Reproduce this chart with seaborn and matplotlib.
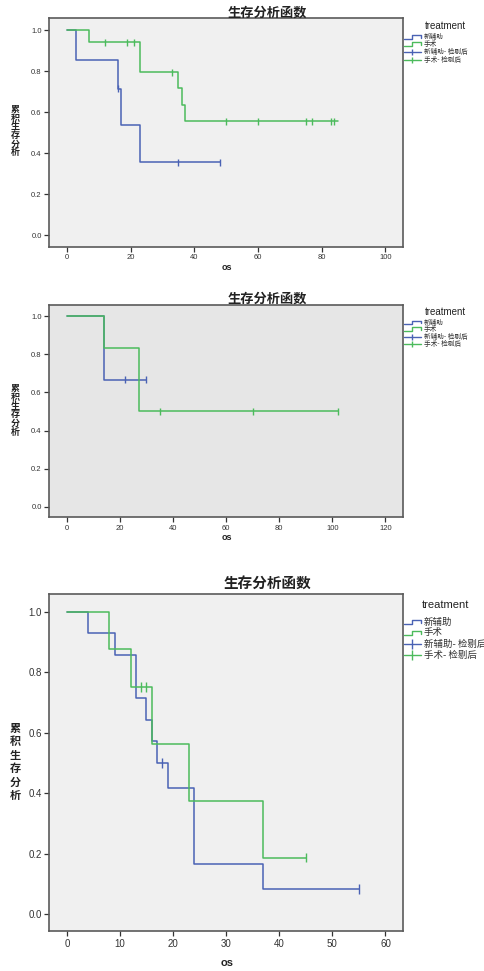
import matplotlib
matplotlib.use("Agg")
import matplotlib.pyplot as plt
from matplotlib.lines import Line2D
import pandas as pd
import seaborn as sns

# ---------------- data ----------------
groups = ["新辅助", "手术"]
legend_labels = ["新辅助", "手术", "新辅助- 检剔后", "手术- 检剔后"]
title_text = "生存分析函数"
ylabel_text = "累积生存分析"
xlabel_text = "os"

# panel 1
p1_neo_time = [0, 3, 16, 17, 23, 48]
p1_neo_surv = [1.0, 0.857, 0.714, 0.536, 0.357, 0.357]
p1_neo_cens_time = [16, 35, 48]
p1_neo_cens_surv = [0.714, 0.357, 0.357]
p1_sur_time = [0, 7, 23, 35, 36, 37, 85]
p1_sur_surv = [1.0, 0.941, 0.796, 0.716, 0.637, 0.557, 0.557]
p1_sur_cens_time = [12, 19, 21, 33, 50, 60, 75, 77, 83, 84]
p1_sur_cens_surv = [0.941, 0.941, 0.941, 0.796, 0.557, 0.557, 0.557, 0.557, 0.557, 0.557]
p1_xticks = [0, 20, 40, 60, 80, 100]

# panel 2
p2_neo_time = [0, 14, 30]
p2_neo_surv = [1.0, 0.667, 0.667]
p2_neo_cens_time = [22, 30]
p2_neo_cens_surv = [0.667, 0.667]
p2_sur_time = [0, 14, 27, 102]
p2_sur_surv = [1.0, 0.833, 0.5, 0.5]
p2_sur_cens_time = [35, 70, 102]
p2_sur_cens_surv = [0.5, 0.5, 0.5]
p2_xticks = [0, 20, 40, 60, 80, 100, 120]

# panel 3
p3_neo_time = [0, 4, 9, 13, 15, 16, 17, 19, 24, 37, 55]
p3_neo_surv = [1.0, 0.929, 0.857, 0.714, 0.643, 0.571, 0.5, 0.417, 0.167, 0.083, 0.083]
p3_neo_cens_time = [18, 55]
p3_neo_cens_surv = [0.5, 0.083]
p3_sur_time = [0, 8, 12, 16, 23, 37, 45]
p3_sur_surv = [1.0, 0.875, 0.75, 0.5625, 0.375, 0.1875, 0.1875]
p3_sur_cens_time = [14, 15, 45]
p3_sur_cens_surv = [0.75, 0.75, 0.1875]
p3_xticks = [0, 10, 20, 30, 40, 50, 60]

yticks = [0.0, 0.2, 0.4, 0.6, 0.8, 1.0]

# ---------------- style ----------------
sns.set_style("ticks")
plt.rcParams["font.family"] = ["Liberation Sans", "Noto Sans CJK SC", "DejaVu Sans"]

BLUE = "#4a62b4"
GREEN = "#4cbb5c"
palette = {"新辅助": BLUE, "手术": GREEN}

W, H = 485, 971
fig = plt.figure(figsize=(W / 100, H / 100), dpi=100)
fig.patch.set_facecolor("white")


def fx(x):
    return x / W


def fy(y):
    return 1 - y / H


def build(neo_t, neo_s, sur_t, sur_s):
    return pd.DataFrame({
        "time": list(neo_t) + list(sur_t),
        "surv": list(neo_s) + list(sur_s),
        "group": [groups[0]] * len(neo_t) + [groups[1]] * len(sur_t),
    })


panels = [
    dict(top=18.3, bottom=246.7, bg="#f0f0f0", xmax=100, xticks=p1_xticks,
         curve=build(p1_neo_time, p1_neo_surv, p1_sur_time, p1_sur_surv),
         cens=build(p1_neo_cens_time, p1_neo_cens_surv, p1_sur_cens_time, p1_sur_cens_surv),
         title_y=12.5, xlab_y=267, ylab_y=131, tick_fs=5.5, title_fs=9.5, ylab_fs=6.5,
         ylab_ls=0.95, xlab_fs=6.5, leg_title_y=25.7, leg_y=[37.3, 44.3, 51.7, 59.7],
         leg_title_fs=7, leg_fs=4.8, msize=5),
    dict(top=305, bottom=517.3, bg="#e6e6e6", xmax=120, xticks=p2_xticks,
         curve=build(p2_neo_time, p2_neo_surv, p2_sur_time, p2_sur_surv),
         cens=build(p2_neo_cens_time, p2_neo_cens_surv, p2_sur_cens_time, p2_sur_cens_surv),
         title_y=299, xlab_y=537, ylab_y=410.5, tick_fs=5.5, title_fs=9.5, ylab_fs=6.5,
         ylab_ls=0.95, xlab_fs=6.5, leg_title_y=312.3, leg_y=[322.7, 329.5, 337.3, 344.3],
         leg_title_fs=7, leg_fs=4.8, msize=5),
    dict(top=594, bottom=931, bg="#f0f0f0", xmax=60, xticks=p3_xticks,
         curve=build(p3_neo_time, p3_neo_surv, p3_sur_time, p3_sur_surv),
         cens=build(p3_neo_cens_time, p3_neo_cens_surv, p3_sur_cens_time, p3_sur_cens_surv),
         title_y=583.5, xlab_y=963, ylab_y=762, tick_fs=7, title_fs=10.5, ylab_fs=8,
         ylab_ls=1.05, xlab_fs=8, leg_title_y=605, leg_y=[622, 633, 644, 655],
         leg_title_fs=8, leg_fs=6.8, msize=7),
]

LEFT, RIGHT = 49.3, 403.3

for p in panels:
    ax = fig.add_axes([fx(LEFT), fy(p["bottom"]), fx(RIGHT) - fx(LEFT),
                       (p["bottom"] - p["top"]) / H])
    ax.set_facecolor(p["bg"])
    sns.lineplot(data=p["curve"], x="time", y="surv", hue="group", hue_order=groups,
                 palette=palette, estimator=None, sort=False, drawstyle="steps-post",
                 linewidth=1.1, legend=False, ax=ax)
    sns.scatterplot(data=p["cens"], x="time", y="surv", hue="group", hue_order=groups,
                    palette=palette, marker="|", s=p["msize"] ** 2, linewidth=1.0,
                    legend=False, ax=ax, zorder=3)
    xmax = p["xmax"]
    ax.set_xlim(-0.055 * xmax, 1.056 * xmax)
    ax.set_ylim(-0.055, 1.058)
    ax.set_xticks(p["xticks"])
    ax.set_yticks(yticks)
    ax.set_xticklabels([str(t) for t in p["xticks"]])
    ax.set_yticklabels([f"{t:.1f}" for t in yticks])
    ax.tick_params(direction="out", length=3.5, width=0.9, colors="#333333",
                   labelsize=p["tick_fs"], pad=2)
    for s in ax.spines.values():
        s.set_visible(True)
        s.set_color("#5a5a5a")
        s.set_linewidth(1.2)
    ax.set_xlabel("")
    ax.set_ylabel("")

    # title, axis labels
    fig.text(fx(267), fy(p["title_y"]), title_text, ha="center", va="center",
             fontsize=p["title_fs"], fontweight="bold", color="#222222",
             family=["Noto Sans CJK SC"])
    fig.text(fx(227), fy(p["xlab_y"]), xlabel_text, ha="center", va="center",
             fontsize=p["xlab_fs"], fontweight="bold", color="#222222")
    fig.text(fx(15), fy(p["ylab_y"]), "\n".join(ylabel_text), ha="center", va="center",
             fontsize=p["ylab_fs"], fontweight="bold", color="#222222",
             linespacing=p["ylab_ls"], family=["Noto Sans CJK SC"])

    # legend
    fig.text(fx(445), fy(p["leg_title_y"]), "treatment", ha="center", va="center",
             fontsize=p["leg_title_fs"], color="#222222")
    cols = [BLUE, GREEN, BLUE, GREEN]
    for i, (lab, c, yy) in enumerate(zip(legend_labels, cols, p["leg_y"])):
        if i < 2:
            xs = [403.5, 412.5, 412.5, 421.5, 421.5]
            ys = [yy + 1.8, yy + 1.8, yy - 2.0, yy - 2.0, yy + 0.8]
            fig.add_artist(Line2D([fx(v) for v in xs], [fy(v) for v in ys],
                                  color=c, linewidth=1.0, transform=fig.transFigure))
        else:
            fig.add_artist(Line2D([fx(403.5), fx(421.5)], [fy(yy), fy(yy)],
                                  color=c, linewidth=1.0, transform=fig.transFigure))
            fig.add_artist(Line2D([fx(412.5)], [fy(yy)], color=c, marker="|",
                                  markersize=p["msize"], markeredgewidth=1.0,
                                  linestyle="none", transform=fig.transFigure))
        fig.text(fx(424), fy(yy), lab, ha="left", va="center", fontsize=p["leg_fs"],
                 color="#333333", family=["Noto Sans CJK SC", "DejaVu Sans"])

fig.savefig("out.png", dpi=100, facecolor="white")
